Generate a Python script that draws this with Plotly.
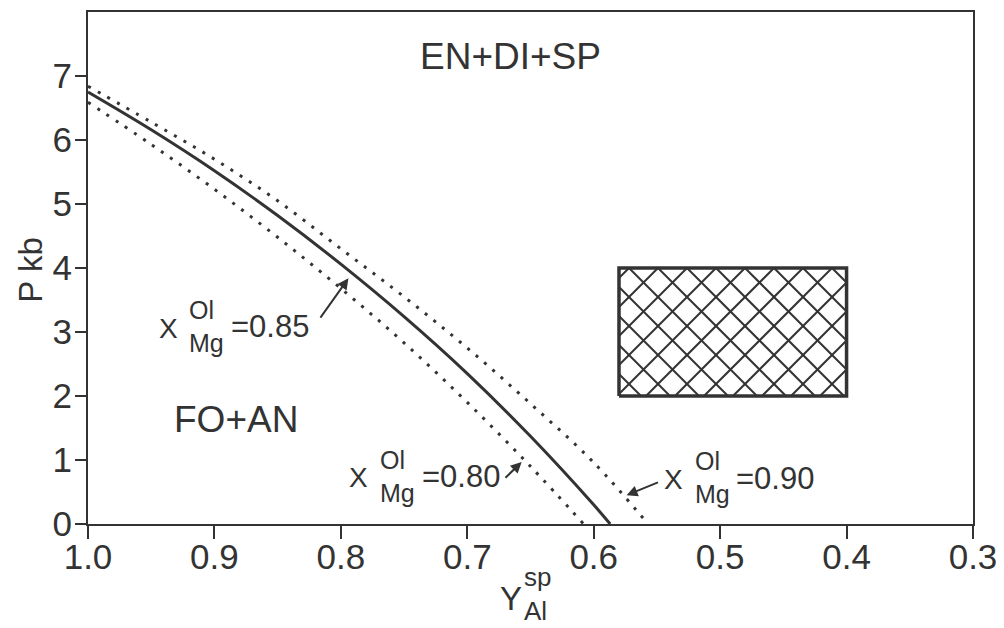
import plotly.graph_objects as go

# ---------------- data ----------------
x_ticks = [1.0, 0.9, 0.8, 0.7, 0.6, 0.5, 0.4, 0.3]
x_tick_labels = ["1.0", "0.9", "0.8", "0.7", "0.6", "0.5", "0.4", "0.3"]
y_ticks = [0, 1, 2, 3, 4, 5, 6, 7]
y_tick_labels = ["0", "1", "2", "3", "4", "5", "6", "7"]

# X(Ol,Mg) = 0.85  (solid)
y_al_085 = [1.0, 0.95, 0.90, 0.85, 0.80, 0.75, 0.70, 0.65, 0.60, 0.587]
p_085 = [6.75, 6.16, 5.52, 4.82, 4.06, 3.24, 2.35, 1.37, 0.30, 0.0]
# X(Ol,Mg) = 0.90  (upper dotted)
y_al_090 = [1.0, 0.95, 0.90, 0.85, 0.80, 0.75, 0.70, 0.65, 0.60, 0.557]
p_090 = [6.84, 6.28, 5.70, 5.05, 4.30, 3.55, 2.75, 1.88, 0.96, 0.0]
# X(Ol,Mg) = 0.80  (lower dotted)
y_al_080 = [1.0, 0.95, 0.90, 0.85, 0.80, 0.75, 0.70, 0.65, 0.608]
p_080 = [6.59, 5.93, 5.23, 4.48, 3.68, 2.83, 1.90, 0.90, 0.0]

# cross-hatched field
box_y_al = [0.58, 0.40]
box_p = [2.0, 4.0]

# ---------------- style ----------------
INK = "#333333"
FONT = "Liberation Sans, Arial, sans-serif"
X_RANGE = [1.0, 0.3]
Y_RANGE = [0.0, 8.0]
# the page body has an 8px default margin, so the figure is sized to fit the window
W, H = 996, 620
ML, MR, MT, MB = 80, 31, 4, 104
PW, PH = W - ML - MR, H - MT - MB
SX = PW / abs(X_RANGE[1] - X_RANGE[0])   # px per x unit
SY = PH / (Y_RANGE[1] - Y_RANGE[0])      # px per y unit

fig = go.Figure()

fig.add_trace(go.Scatter(x=y_al_090, y=p_090, mode="lines",
                         line=dict(color=INK, width=3, dash="3px,8px", shape="spline"),
                         hoverinfo="skip", showlegend=False))
fig.add_trace(go.Scatter(x=y_al_080, y=p_080, mode="lines",
                         line=dict(color=INK, width=3, dash="3px,8px", shape="spline"),
                         hoverinfo="skip", showlegend=False))
fig.add_trace(go.Scatter(x=y_al_085, y=p_085, mode="lines",
                         line=dict(color=INK, width=3, shape="spline"),
                         hoverinfo="skip", showlegend=False))

# hatch lines inside the box (45 degrees in screen space)
x_left, x_right = box_y_al
p_bot, p_top = box_p
bw = abs(x_left - x_right) * SX
bh = (p_top - p_bot) * SY
spacing = 29.0
phase = 10.0
hx, hy = [], []


def add_seg(u0, v0, u1, v1):
    hx.extend([x_left - u0 / SX, x_left - u1 / SX, None])
    hy.extend([p_bot + v0 / SY, p_bot + v1 / SY, None])


def clip_line(sign, c):
    # sign=+1: u - v = c ; sign=-1: u + v = c
    pts = []
    for v in (0.0, bh):
        u = c + v if sign > 0 else c - v
        if -1e-9 <= u <= bw + 1e-9:
            pts.append((u, v))
    for u in (0.0, bw):
        v = u - c if sign > 0 else c - u
        if -1e-9 <= v <= bh + 1e-9:
            pts.append((u, v))
    if len(pts) >= 2:
        pts = sorted(set(pts))
        if pts[0] != pts[-1]:
            add_seg(*pts[0], *pts[-1])


for k in range(-20, 40):
    ut = phase + k * spacing  # where the lines meet the top edge
    clip_line(+1, ut - bh)
    clip_line(-1, ut + bh)

fig.add_trace(go.Scatter(x=hx, y=hy, mode="lines", line=dict(color=INK, width=2),
                         hoverinfo="skip", showlegend=False))
fig.add_trace(go.Scatter(x=[x_left, x_right, x_right, x_left, x_left],
                         y=[p_bot, p_bot, p_top, p_top, p_bot], mode="lines",
                         line=dict(color=INK, width=3.5),
                         hoverinfo="skip", showlegend=False))

ann = []


def txt(x, y, s, size, xref="x", yref="y", xanchor="left", angle=0, align="left"):
    ann.append(dict(x=x, y=y, xref=xref, yref=yref, text=s, showarrow=False,
                    xanchor=xanchor, yanchor="middle", textangle=angle, align=align,
                    borderpad=0,
                    font=dict(family=FONT, size=size, color=INK)))


def arrow(xt, yt, xa, ya):
    ann.append(dict(x=xt, y=yt, ax=xa, ay=ya, xref="x", yref="y", axref="x", ayref="y",
                    text="", showarrow=True, arrowhead=2, arrowsize=1.1, arrowwidth=2,
                    arrowcolor=INK, standoff=0, startstandoff=0))


# field labels
txt(0.666, 7.30, "EN+DI+SP", 37, xanchor="center", align="center")
txt(0.883, 1.64, "FO+AN", 37, xanchor="center", align="center")


# composition labels: X with stacked Ol (above) / Mg (below)
def xlabel(xx, yy, val):
    txt(xx, yy, "X", 28)
    txt(xx - 0.024, yy + 0.03, "Ol<br>Mg", 25)
    txt(xx - 0.057, yy + 0.02, "=" + val, 31)


xlabel(0.945, 3.06, "0.85")
xlabel(0.794, 0.72, "0.80")
xlabel(0.545, 0.69, "0.90")

arrow(0.794, 3.84, 0.817, 3.20)
arrow(0.657, 0.97, 0.671, 0.70)
arrow(0.574, 0.45, 0.548, 0.66)

# axis titles
txt(-0.066, 0.496, "P kb", 33, xref="paper", yref="paper", xanchor="center",
    angle=-90, align="center")
txt(0.492, -0.145, "Y", 33, xref="paper", yref="paper", xanchor="right")
txt(0.492, -0.137, "sp<br>Al", 26, xref="paper", yref="paper")

axis_common = dict(showline=True, linewidth=2, linecolor=INK, mirror=True,
                   ticks="outside", tickwidth=2, tickcolor=INK,
                   showgrid=False, zeroline=False, automargin=False,
                   tickfont=dict(family=FONT, size=35, color=INK))

fig.update_layout(
    width=W, height=H, autosize=False,
    margin=dict(l=ML, r=MR, t=MT, b=MB),
    paper_bgcolor="white", plot_bgcolor="white",
    showlegend=False,
    xaxis=dict(range=X_RANGE, tickvals=x_ticks, ticktext=x_tick_labels, ticklen=13,
               ticklabelstandoff=-12, **axis_common),
    yaxis=dict(range=Y_RANGE, tickvals=y_ticks, ticktext=y_tick_labels, ticklen=11,
               ticklabelstandoff=-4, **axis_common),
    annotations=ann,
)

fig.write_html("out.html")
